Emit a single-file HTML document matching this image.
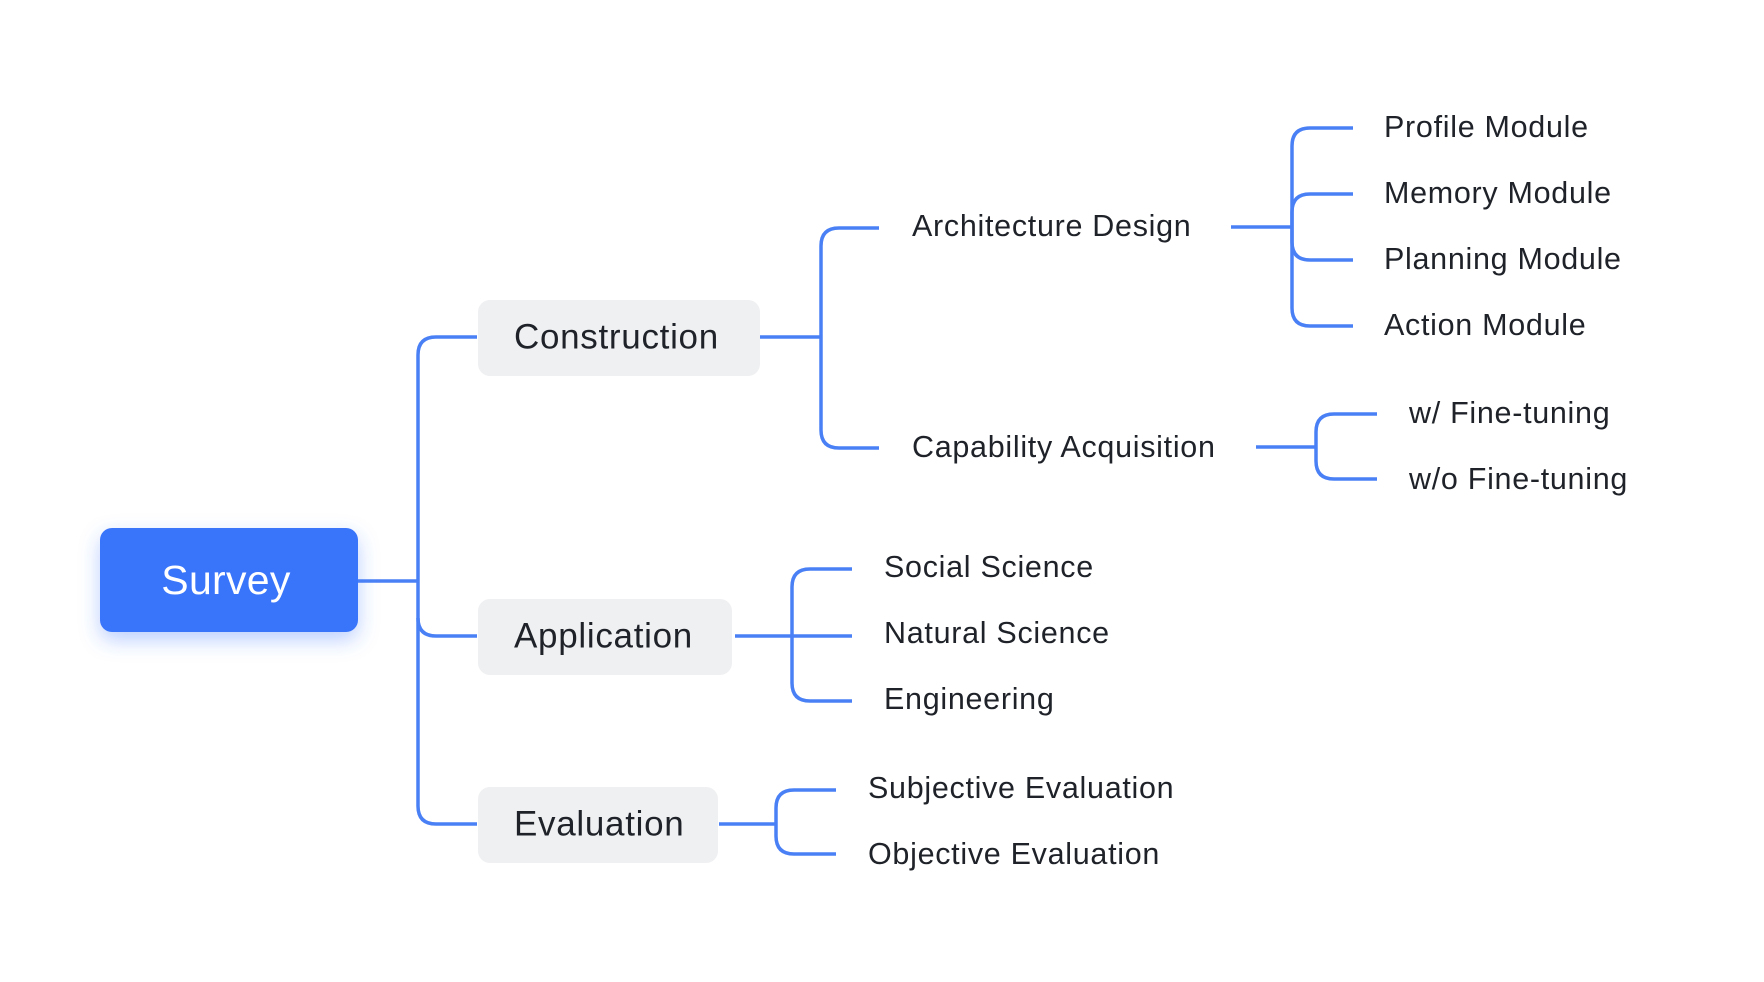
<!DOCTYPE html>
<html><head><meta charset="utf-8"><style>
html,body{margin:0;padding:0;background:#fff;}
svg{display:block;}
text{font-family:"Liberation Sans",sans-serif;fill:#1f2329;dominant-baseline:central;}
</style></head><body>
<svg width="1764" height="982" viewBox="0 0 1764 982" xmlns="http://www.w3.org/2000/svg">
<defs>
<filter id="sh" x="-30%" y="-40%" width="160%" height="190%">
<feDropShadow dx="0" dy="8" stdDeviation="10" flood-color="#3a76fc" flood-opacity="0.35"/>
</filter>
</defs>
<g fill="none" stroke="#4a80f5" stroke-width="3.5">
<path d="M357 581 H418"/>
<path d="M477 337 H436 Q418 337 418 355 V806 Q418 824 436 824 H477"/>
<path d="M418 618 Q418 636 436 636 H477"/>
<path d="M759 337 H821"/>
<path d="M879 228 H839 Q821 228 821 246 V430 Q821 448 839 448 H879"/>
<path d="M1231 227 H1292"/>
<path d="M1353 128 H1310 Q1292 128 1292 146 V308 Q1292 326 1310 326 H1353"/>
<path d="M1353 194 H1310 Q1292 194 1292 212 V242 Q1292 260 1310 260 H1353"/>
<path d="M1256 447 H1316"/>
<path d="M1377 414 H1334 Q1316 414 1316 432 V461 Q1316 479 1334 479 H1377"/>
<path d="M735 636 H852"/>
<path d="M852 569 H810 Q792 569 792 587 V683 Q792 701 810 701 H852"/>
<path d="M719 824 H776"/>
<path d="M836 790 H794 Q776 790 776 808 V836 Q776 854 794 854 H836"/>
</g>
<rect x="100" y="528" width="258" height="104" rx="12" fill="#3874fb" filter="url(#sh)"/>
<text x="226" y="580" text-anchor="middle" style="fill:#fff;font-size:41px;letter-spacing:0.3px">Survey</text>
<rect x="478" y="300" width="282" height="76" rx="12" fill="#eff0f2"/>
<text x="514" y="337" style="font-size:35px;letter-spacing:0.7px">Construction</text>
<rect x="478" y="599" width="254" height="76" rx="12" fill="#eff0f2"/>
<text x="514" y="636" style="font-size:35px;letter-spacing:0.7px">Application</text>
<rect x="478" y="787" width="240" height="76" rx="12" fill="#eff0f2"/>
<text x="514" y="824" style="font-size:35px;letter-spacing:0.7px">Evaluation</text>
<g style="font-size:30.5px;letter-spacing:0.7px">
<text x="912" y="226">Architecture Design</text>
<text x="912" y="447">Capability Acquisition</text>
<text x="1384" y="127">Profile Module</text>
<text x="1384" y="193">Memory Module</text>
<text x="1384" y="259">Planning Module</text>
<text x="1384" y="325">Action Module</text>
<text x="1409" y="413">w/ Fine-tuning</text>
<text x="1409" y="479">w/o Fine-tuning</text>
<text x="884" y="567">Social Science</text>
<text x="884" y="633">Natural Science</text>
<text x="884" y="699">Engineering</text>
<text x="868" y="788">Subjective Evaluation</text>
<text x="868" y="854">Objective Evaluation</text>
</g>
</svg>
</body></html>
